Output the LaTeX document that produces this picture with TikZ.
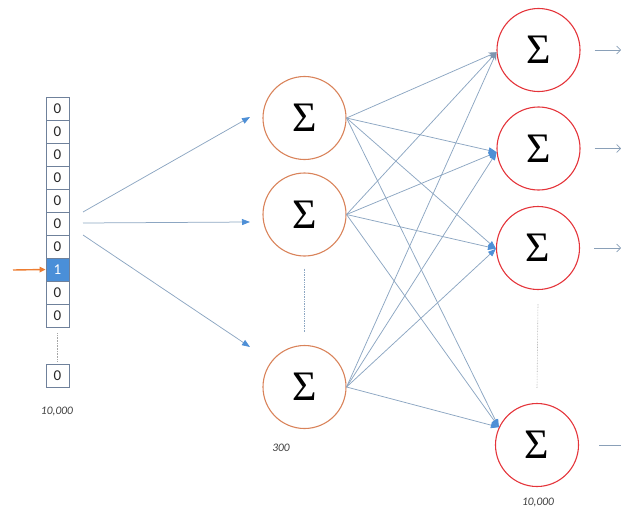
\documentclass[tikz,border=0pt]{standalone}
\usepackage{fontspec}
\setmainfont{Carlito}
\newfontfamily\sigmafont{Liberation Serif}
\usetikzlibrary{arrows.meta,calc}

\definecolor{cellborder}{HTML}{6F819B}
\definecolor{hotblue}{HTML}{4A8FD8}
\definecolor{pointer}{HTML}{ED7D31}
\definecolor{hidorange}{HTML}{D9835A}
\definecolor{outred}{HTML}{E4343A}
\definecolor{feedline}{HTML}{8CA6C2}
\definecolor{tipblue}{HTML}{4E8FD6}
\definecolor{labelgray}{HTML}{404040}

\begin{document}
\begin{tikzpicture}[x=1pt, y=-1pt,
  cell/.style={draw=cellborder, line width=0.8pt, minimum width=23pt, minimum height=23pt,
    inner sep=0pt, font=\fontsize{15}{15}\selectfont, text=black!85},
  hot/.style={cell, fill=hotblue, text=white},
  hid/.style={circle, draw=hidorange, line width=1.1pt, minimum size=83pt, inner sep=0pt,
    font=\sigmafont\fontsize{42}{42}\selectfont},
  outn/.style={hid, draw=outred},
  countlbl/.style={font=\itshape\fontsize{11.5}{11.5}\selectfont, text=labelgray},
  feed/.style={draw=feedline, line width=0.75pt,
    -{Triangle[length=8pt, width=6pt, color=tipblue]}},
  wire/.style={draw=feedline, line width=0.75pt,
    -{Triangle[length=8pt, width=6pt, color=tipblue]}},
  wirepale/.style={draw=feedline, line width=0.75pt,
    -{Stealth[length=8pt, width=6pt, color=feedline!90!black]}},
  outarrow/.style={draw=feedline!85!gray, line width=0.7pt,
    -{Straight Barb[length=4pt, width=8pt]}},
  gap/.style={draw=gray!70, line width=0.6pt, densely dotted}
]
\useasboundingbox (0,0) rectangle (621,511);

% one-hot input vector
\foreach \i in {0,...,6}{
  \node[cell] (b\i) at (57.5,{108.5+23*\i}) {0};
}
\node[hot]  (b7) at (57.5,269.5) {1};
\node[cell] (b8) at (57.5,292.5) {0};
\node[cell] (b9) at (57.5,315.5) {0};
\node[cell] (blast) at (57.5,376) {0};
\draw[gap] ($(b9.south)+(0,6)$) -- ($(blast.north)+(0,-2)$);
\node[countlbl] (nin) at (57,412) {10,000};

% pointer to the active entry
\coordinate (ptr) at (13,270);
\draw[pointer, line width=1.4pt, -{Triangle[length=6pt, width=5.5pt]}] (ptr) -- (b7.west);

% hidden layer
\node[hid] (h1) at (304.5,118) {Σ};
\node[hid] (h2) at (304.5,214.5) {Σ};
\node[hid] (h3) at (304.5,387) {Σ};
\draw[draw=feedline, line width=0.7pt, densely dotted]
  ($(h2.south)+(0,12)$) -- ($(h3.north)+(0,-12)$);
\node[countlbl] (nhid) at (281,448) {300};

% input to hidden
\coordinate (s1) at (83,212);
\coordinate (s2) at (83,223);
\coordinate (s3) at (83,235);
\coordinate (t1) at (250,117);
\coordinate (t2) at (250,222);
\coordinate (t3) at (250,347);
\draw[feed] (s1) -- (t1);
\draw[feed] (s2) -- (t2);
\draw[feed] (s3) -- (t3);

% output layer
\node[outn] (o1) at (538.5,50) {Σ};
\node[outn] (o2) at (538.5,148.5) {Σ};
\node[outn] (o3) at (538,248) {Σ};
\node[outn] (o4) at (537,445) {Σ};
\draw[gap] ($(o3.south)+(0,14)$) -- ($(o4.north)+(0,-15)$);
\node[countlbl] (nout) at (538,503) {10,000};

% hidden to output, fully connected
\foreach \h in {h1,h2,h3}{
  \draw[wirepale] (\h.east) -- (o1.183);
  \draw[wire] (\h.east) -- (o2.185);
  \draw[wire] (\h.east) -- (o3.181);
  \draw[wire] (\h.east) -- (o4.155);
}

% outgoing signals
\coordinate (e1) at (621,50);
\coordinate (e2) at (621,148.5);
\coordinate (e3) at (621,248);
\coordinate (e4) at (621,445);
\draw[outarrow] ($(o1.east)+(14,0)$) -- (e1);
\draw[outarrow] ($(o2.east)+(14,0)$) -- (e2);
\draw[outarrow] ($(o3.east)+(14,0)$) -- (e3);
\draw[draw=feedline!85!gray, line width=0.7pt] ($(o4.east)+(20,0)$) -- (e4);
\end{tikzpicture}
\end{document}
